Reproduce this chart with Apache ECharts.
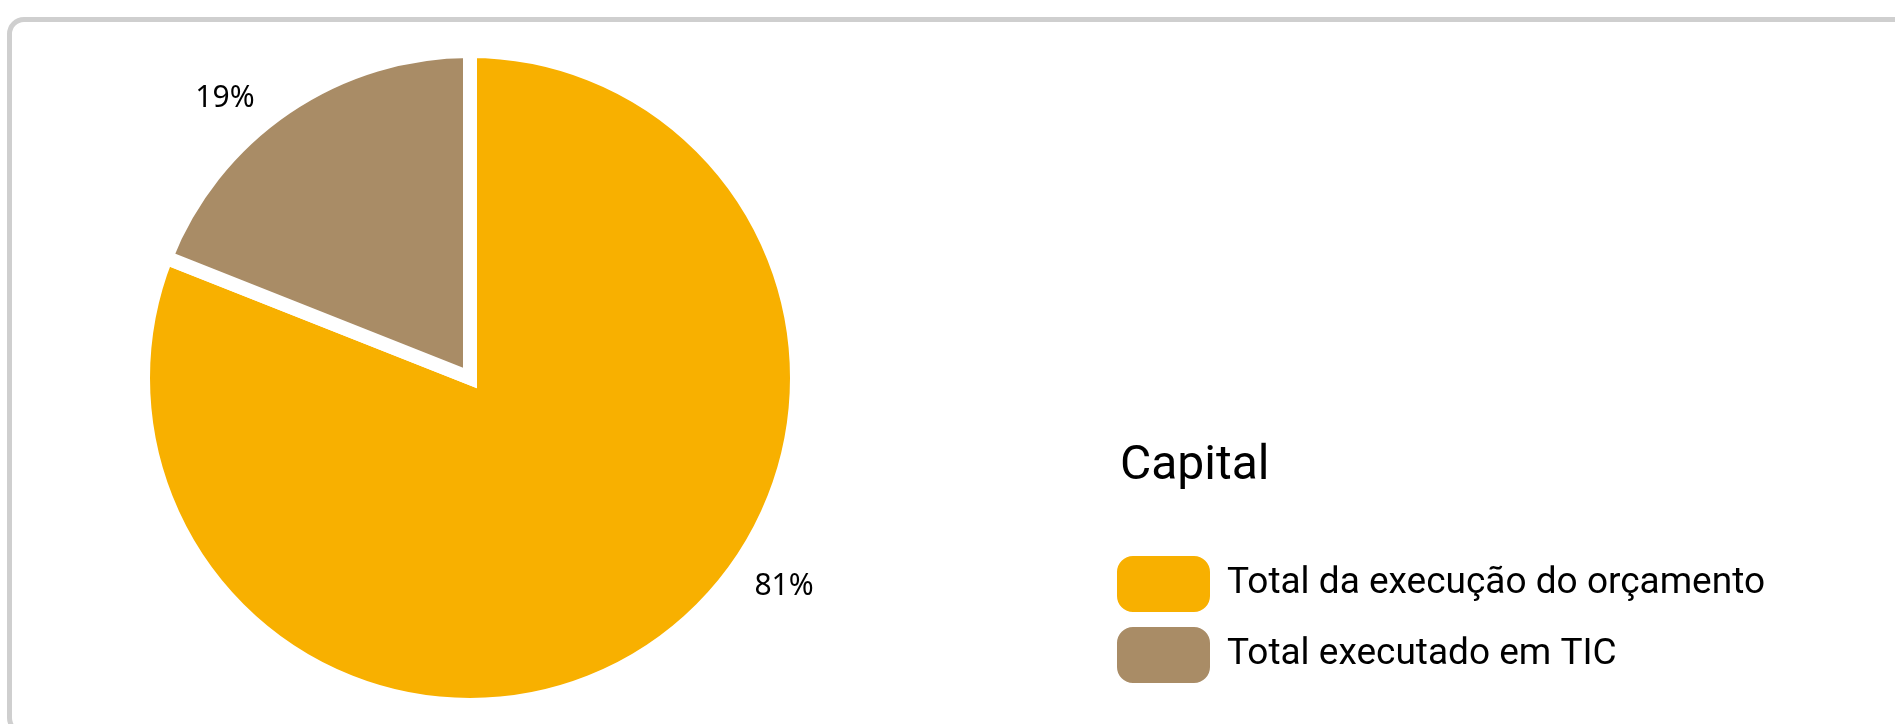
<!DOCTYPE html>
<html>
<head>
<meta charset="utf-8">
<script src="https://cdn.jsdelivr.net/npm/echarts@6/dist/echarts.min.js"></script>
<style>
  html, body { margin: 0; padding: 0; background: #fff; overflow: hidden; }
  #frame {
    position: absolute; left: 7px; top: 17px;
    width: 1930px; height: 718px;
    border: 5px solid #cfcfcf; border-radius: 17px;
    box-sizing: border-box;
  }
  #chart { position: absolute; left: 0; top: 0; width: 1895px; height: 724px; }
</style>
</head>
<body>
<div id="frame"></div>
<div id="chart"></div>
<script>
// Capital budget: share executed in ICT vs the rest of the budget execution
const legendTitle = 'Capital';
const categories = ['Total da execução do orçamento', 'Total executado em TIC'];
const values = [81, 19];
const colors = ['#F8B000', '#A98C66'];

// pie geometry
const CX = 470, CY = 378, R = 327;
// where each percentage label sits: [clockwise angle from 12 o'clock (deg), distance from centre]
const labelSpots = [[123.6, 377], [318.8, 372]];

// rounded swatch used for the legend keys
const swatch = 'path://M17,0H78A17,17,0,0,1,95,17V41A17,17,0,0,1,78,58H17A17,17,0,0,1,0,41V17A17,17,0,0,1,17,0Z';

const chart = echarts.init(document.getElementById('chart'), null, { renderer: 'canvas' });

chart.setOption({
  animation: false,
  title: {
    text: legendTitle,
    left: 1120,
    top: 443,
    padding: 0,
    textStyle: { fontFamily: 'Roboto', fontSize: 48, fontWeight: 'normal', color: '#000' }
  },
  legend: {
    orient: 'vertical',
    left: 1115,
    top: 554,
    padding: 0,
    itemWidth: 95,
    itemHeight: 58,
    itemGap: 11,
    icon: swatch,
    data: categories,
    textStyle: { fontFamily: 'Roboto', fontSize: 37, color: '#000', padding: [0, 0, 0, 11] }
  },
  series: [{
    type: 'pie',
    center: [CX, CY],
    radius: R,
    startAngle: 90,
    clockwise: true,
    silent: true,
    data: categories.map((name, i) => ({ name, value: values[i], itemStyle: { color: colors[i] } })),
    itemStyle: { borderColor: '#fff', borderWidth: 14, borderJoin: 'miter', borderMiterLimit: 20 },
    label: {
      show: true,
      position: 'outside',
      formatter: '{d}%',
      fontFamily: 'Noto Sans',
      fontSize: 30,
      color: '#000'
    },
    labelLine: { show: false },
    labelLayout: function (p) {
      const s = labelSpots[p.dataIndex];
      const a = s[0] * Math.PI / 180;
      return {
        x: CX + s[1] * Math.sin(a),
        y: CY - s[1] * Math.cos(a),
        align: 'center',
        verticalAlign: 'middle'
      };
    }
  }]
});
</script>
</body>
</html>
